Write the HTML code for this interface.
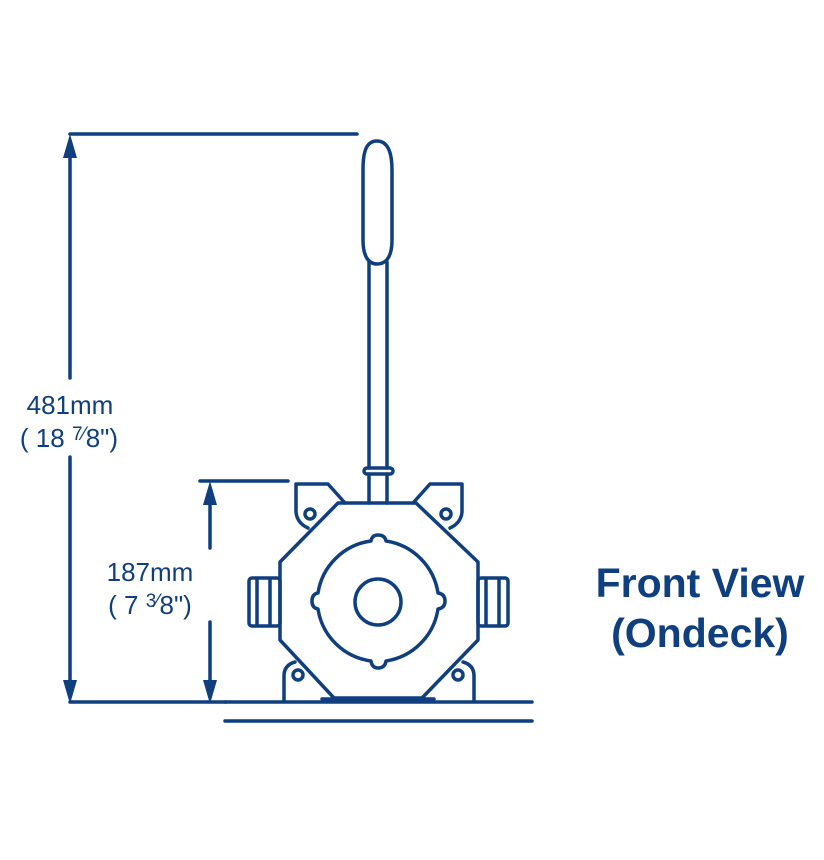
<!DOCTYPE html>
<html><head><style>html,body{margin:0;padding:0;background:#fff}svg{display:block}</style></head>
<body>
<svg width="824" height="860" viewBox="0 0 824 860" xmlns="http://www.w3.org/2000/svg">
<g stroke="#0f3f7e" fill="none" stroke-width="3.5" stroke-linejoin="round" stroke-linecap="round">
<line x1="70" y1="134" x2="357" y2="134"/>
<line x1="70" y1="150" x2="70" y2="378"/>
<line x1="70" y1="457" x2="70" y2="688"/>
<line x1="70" y1="702" x2="226" y2="702"/>
<line x1="200" y1="481" x2="288" y2="481"/>
<line x1="210" y1="495" x2="210" y2="548"/>
<line x1="210" y1="622" x2="210" y2="688"/>
<path d="M377 141 C366 141 363 152 363 170 L363 240 C363 257 369 264 377 264 C386 264 392 257 392 240 L392 170 C392 152 388 141 377 141 Z"/>
<line x1="369" y1="262" x2="369" y2="468"/>
<line x1="387" y1="262" x2="387" y2="468"/>
<rect x="364" y="468" width="29" height="6" rx="3"/>
<line x1="369" y1="474" x2="369" y2="503"/>
<line x1="387" y1="474" x2="387" y2="503"/>
<path d="M338 503 L416 503 L478 562 L478 640 L422 698 L334 698 L280 640 L280 562 Z"/>
<path d="M296 484 L328 484 L345 503 M296 484 L296 512 Q297 523 308 528"/>
<circle cx="310" cy="514" r="5"/>
<path d="M462 484 L430 484 L413 503 M462 484 L462 512 Q461 523 450 528"/>
<circle cx="446" cy="514" r="5"/>
<path d="M284 700 L284 676 Q284 665 295 662"/>
<circle cx="298" cy="675" r="5"/>
<path d="M474 700 L474 676 Q474 665 463 662"/>
<circle cx="458" cy="675" r="5"/>
<rect x="249" y="578" width="31" height="48" rx="3"/>
<line x1="257" y1="579" x2="257" y2="625"/>
<line x1="270" y1="579" x2="270" y2="625"/>
<rect x="478" y="578" width="30" height="48" rx="3"/>
<line x1="486" y1="579" x2="486" y2="625"/>
<line x1="499" y1="579" x2="499" y2="625"/>
<path d="M371 541 Q372 535 378 535 Q385 535 386 541 A62 62 0 0 1 438 593 Q445 594 445 601 Q445 608 438 609 A62 62 0 0 1 386 661 Q385 668 378 668 Q372 668 371 661 A62 62 0 0 1 318 609 Q312 608 312 601 Q312 594 318 593 A62 62 0 0 1 371 541 Z"/>
<circle cx="378" cy="602" r="23"/>
<line x1="225" y1="702" x2="532" y2="702"/>
<line x1="225" y1="721" x2="532" y2="721"/>
<line x1="322" y1="699" x2="434" y2="699"/>
</g>
<g fill="#0f3f7e">
<polygon points="70,134 63,158 77,158"/>
<polygon points="70,704 63,680 77,680"/>
<polygon points="210,481 203,505 217,505"/>
<polygon points="210,704 203,680 217,680"/>
</g>
<g fill="#0f3f7e" font-family="Liberation Sans, sans-serif" text-anchor="middle">
<text x="70" y="414" font-size="26">481mm</text>
<text x="69" y="447" font-size="26">( 18 <tspan font-size="19" dy="-7">7</tspan><tspan font-size="19">⁄</tspan><tspan dy="7">8")</tspan></text>
<text x="150" y="581" font-size="26">187mm</text>
<text x="150" y="614" font-size="26">( 7 <tspan font-size="19" dy="-7">3</tspan><tspan font-size="19">⁄</tspan><tspan dy="7">8")</tspan></text>
<text x="700" y="597" font-size="41" font-weight="bold">Front View</text>
<text x="700" y="647" font-size="41" font-weight="bold">(Ondeck)</text>
</g>
</svg>
</body></html>
